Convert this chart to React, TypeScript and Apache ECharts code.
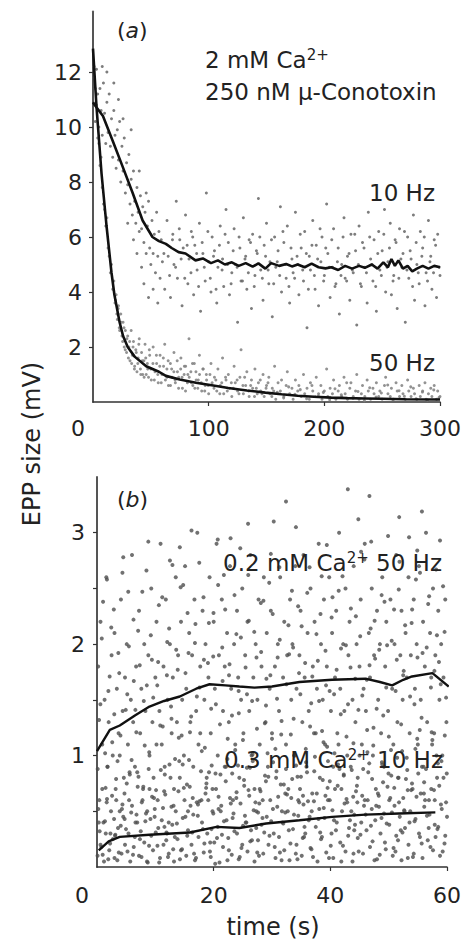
import React, { useEffect, useRef } from "react";
import * as echarts from "echarts";

// ---------- Panel (a): 2 mM Ca2+, 250 nM mu-Conotoxin ----------
// flat lists: t, v, t, v, ...
const a10HzPoints: number[] = [
  1,11.8, 2,10.2, 3,12.1, 4,11.2, 5,10.0, 6,11.4, 7,10.6, 8,9.7, 9,11.6, 10,10.5,
  11,9.4, 12,10.9, 13,9.8, 14,11.2, 15,9.3, 16,10.3, 17,8.9, 18,10.6, 19,9.7, 20,8.5,
  21,9.9, 22,8.8, 23,10.2, 24,8.0, 25,9.3, 26,8.4, 27,9.6, 28,7.6, 29,8.7, 30,7.9,
  31,9.0, 32,7.2, 33,8.1, 34,6.8, 35,8.4, 36,7.3, 37,6.5, 38,7.8, 39,6.9, 40,6.2,
  41,7.5, 42,6.3, 43,7.1, 44,5.8, 45,6.9, 46,5.4, 47,6.4, 48,7.3, 49,5.6, 50,5.0,
  51,6.6, 52,5.4, 53,6.1, 54,4.7, 55,6.9, 56,5.3, 57,6.2, 58,4.5, 59,5.9, 60,5.1,
  30,6.5, 38,5.4, 44,4.3, 48,3.8, 52,4.1, 56,3.6, 33,9.9, 26,10.3, 18,11.6, 8,12.2,
  12,12.0, 22,11.0, 40,8.4, 46,7.6, 35,5.9, 42,4.9,
  62,4.1, 64,6.6, 65,5.3, 67,3.8, 69,6.1, 70,5.0, 72,7.3, 73,4.5, 75,5.9, 77,3.5,
  78,5.6, 80,6.8, 82,4.3, 83,5.2, 85,6.2, 87,3.9, 88,5.7, 90,4.8, 92,6.5, 93,3.3,
  95,5.4, 97,4.4, 98,7.6, 100,5.1, 102,4.0, 103,6.0, 105,5.5, 107,3.6, 108,4.9, 110,6.4,
  112,5.2, 113,4.2, 115,7.0, 117,5.8, 118,3.9, 120,4.7, 122,6.3, 123,5.0, 125,2.9, 127,5.6,
  128,4.4, 130,6.7, 132,5.3, 133,4.1, 135,5.9, 137,3.4, 138,6.1, 140,4.6, 142,5.4, 143,7.4,
  145,4.8, 147,3.7, 148,5.7, 150,6.5, 152,4.3, 153,5.1, 155,3.1, 157,6.0, 158,4.9, 160,5.5,
  162,7.1, 163,4.0, 165,5.8, 167,4.5, 168,6.4, 170,3.6, 172,5.2, 173,4.7, 175,6.9, 177,5.0,
  178,3.9, 180,5.6, 182,4.4, 183,6.2, 185,2.7, 187,5.3, 188,4.8, 190,6.6, 192,4.1, 193,5.7,
  195,3.5, 197,5.1, 198,6.0, 200,4.6, 202,7.2, 203,5.4, 205,3.8, 207,4.9, 208,6.3, 210,4.3,
  212,5.6, 213,3.2, 215,5.0, 217,6.7, 218,4.5, 220,5.3, 222,3.7, 223,6.1, 225,4.7, 227,5.5,
  228,2.8, 230,6.4, 232,4.2, 233,5.8, 235,4.9, 237,3.6, 238,6.9, 240,5.2, 242,4.4, 243,5.9,
  245,3.3, 247,6.2, 248,4.8, 250,5.5, 252,7.0, 253,4.0, 255,5.1, 257,6.5, 258,3.9, 260,4.6,
  262,5.8, 263,3.4, 265,6.3, 267,4.9, 268,5.4, 270,2.9, 272,6.0, 273,4.5, 275,5.2, 277,6.8,
  278,3.7, 280,5.0, 282,4.3, 283,6.2, 285,5.6, 287,3.5, 288,4.7, 290,6.6, 292,5.3, 293,4.1,
  295,5.9, 297,3.8, 298,6.1, 300,4.6,
];

const a10HzPointsMore: number[] = [
  61.3,5.4, 66.2,4.6, 68.7,5.9, 71.4,4.9, 74.6,6.3, 76.2,5.2, 79.3,4.5, 81.4,5.7, 84.7,4.7, 86.2,6.0,
  89.6,5.4, 91.3,4.2, 94.4,5.8, 96.2,4.9, 99.3,6.2, 101.4,4.5, 104.2,5.3, 106.4,4.1, 109.3,5.7, 111.6,4.8,
  114.2,6.1, 116.3,5.0, 119.4,4.3, 121.2,5.5, 124.6,4.9, 126.3,6.0, 129.2,4.4, 131.4,5.2, 134.3,4.7, 136.2,5.8,
  139.4,4.2, 141.3,5.5, 144.2,6.0, 146.4,4.5, 149.2,5.3, 151.4,4.8, 154.3,5.9, 156.2,4.3, 159.3,5.1, 161.4,4.6,
  164.2,6.2, 166.3,5.0, 169.4,4.2, 171.2,5.6, 174.3,4.5, 176.4,5.3, 179.2,6.1, 181.3,4.8, 184.4,5.4, 186.2,4.1,
  189.3,5.7, 191.4,4.6, 194.2,5.2, 196.3,6.3, 199.4,4.4, 201.2,5.6, 204.3,4.9, 206.4,5.9, 209.2,4.2, 211.3,5.1,
  214.4,4.6, 216.2,6.0, 219.3,4.4, 221.4,5.4, 224.2,4.8, 226.3,6.1, 229.4,5.0, 231.2,4.3, 234.3,5.6, 236.4,4.7,
  239.2,6.0, 241.3,5.0, 244.4,4.2, 246.2,5.4, 249.3,4.6, 251.4,6.1, 254.2,4.9, 256.3,5.6, 259.4,4.4, 261.2,5.9,
  264.4,4.5, 266.2,5.2, 269.3,6.2, 271.4,4.8, 274.2,5.5, 276.3,4.2, 279.4,5.8, 281.2,4.7, 284.3,5.3, 286.4,6.0,
  289.2,4.4, 291.3,5.1, 294.4,4.7, 296.2,5.7, 299.3,4.9,
];

const a50HzPoints: number[] = [
  1,12.2, 2,11.4, 3,10.8, 4,9.6, 5,9.4, 6,8.6, 7,8.9, 8,7.8, 9,7.2, 10,7.0,
  11,6.4, 12,6.7, 13,5.6, 14,5.3, 15,4.7, 16,5.0, 17,4.1, 18,4.4, 19,3.6, 20,3.9,
  21,3.0, 22,3.5, 23,2.6, 24,3.2, 25,2.4, 26,2.9, 27,2.0, 28,2.6, 29,1.8, 30,2.4,
  31,2.0, 32,1.5, 33,2.6, 34,1.7, 35,2.2, 36,1.3, 37,1.9, 38,1.1, 39,1.6, 40,2.3,
  41,1.2, 42,1.8, 43,1.0, 44,1.5, 45,2.1, 46,1.0, 47,1.4, 48,0.9, 49,1.7, 50,1.2,
  52,2.0, 53,0.8, 55,1.4, 56,1.0, 58,1.7, 59,0.7, 61,1.3, 62,2.1, 64,0.9, 65,1.5,
  67,0.6, 68,1.2, 70,1.8, 71,0.8, 73,1.1, 74,0.5, 76,1.6, 77,0.9, 79,1.3, 80,0.4,
  82,1.0, 83,2.3, 85,0.7, 86,1.4, 88,0.5, 89,1.1, 91,0.8, 92,1.7, 94,0.4, 95,1.2,
  97,0.6, 98,1.0, 100,0.3, 102,1.4, 103,0.7, 105,0.9, 107,0.4, 108,1.2, 110,0.6, 112,1.6,
  113,0.3, 115,0.8, 117,1.0, 118,0.5, 120,0.2, 122,1.3, 123,0.7, 125,0.4, 127,0.9, 128,1.9,
  130,0.3, 132,0.6, 133,1.1, 135,0.2, 137,0.8, 138,0.5, 140,1.2, 142,0.3, 143,0.7, 145,0.4,
  147,1.0, 148,0.2, 150,0.6, 152,0.9, 153,0.3, 155,0.5, 157,1.3, 158,0.1, 160,0.7, 162,0.4,
  163,0.8, 165,0.2, 167,0.6, 168,1.1, 170,0.3, 172,0.5, 173,0.1, 175,0.8, 177,0.4, 178,0.6,
  180,0.2, 182,1.0, 183,0.3, 185,0.5, 187,0.1, 188,0.7, 190,0.4, 192,0.2, 193,0.9, 195,0.3,
  197,0.6, 198,0.1, 200,0.4, 202,1.2, 203,0.2, 205,0.5, 207,0.3, 208,0.8, 210,0.1, 212,0.4,
  213,0.6, 215,0.2, 217,0.9, 218,0.3, 220,0.1, 222,0.5, 223,0.7, 225,0.2, 227,0.4, 228,1.0,
  230,0.1, 232,0.3, 233,0.6, 235,0.2, 237,0.8, 238,0.4, 240,0.1, 242,0.5, 243,0.3, 245,0.7,
  247,0.2, 248,0.4, 250,0.1, 252,0.6, 253,0.9, 255,0.3, 257,0.2, 258,0.5, 260,0.1, 262,0.7,
  263,0.4, 265,0.2, 267,0.6, 268,0.3, 270,0.1, 272,0.8, 273,0.4, 275,0.2, 277,0.5, 278,0.3,
  280,0.1, 282,0.6, 283,0.2, 285,0.4, 287,0.7, 288,0.1, 290,0.3, 292,0.5, 293,0.2, 295,0.6,
  297,0.1, 298,0.4, 300,0.2,
];

const a50HzPointsMore: number[] = [
  19.4,3.7, 20.6,3.2, 21.8,3.4, 22.7,2.7, 24.3,2.9, 25.6,2.2, 26.8,2.7, 27.9,1.9, 29.3,2.3, 30.6,1.6,
  31.7,2.2, 33.4,1.4, 34.6,2.0, 35.8,1.2, 37.4,1.8, 38.7,1.4, 39.6,2.1, 41.3,1.0, 42.6,1.5, 44.2,0.9,
  45.6,1.6, 47.3,1.2, 48.7,1.9, 50.4,0.8, 51.8,1.4, 53.6,1.1, 54.8,1.7, 56.4,0.7, 57.7,1.3, 59.6,1.0,
  60.8,1.6, 62.6,0.8, 63.9,1.2, 65.2,0.6, 66.9,1.4, 68.3,0.9, 69.9,1.1, 71.2,0.7, 72.8,1.5, 74.1,0.9,
  75.8,1.2, 77.3,0.5, 78.8,1.0, 80.1,1.3, 81.6,0.7, 83.2,0.9, 84.6,1.1, 86.3,0.6, 87.6,1.4, 89.2,0.8,
  90.6,0.5, 92.1,1.0, 93.6,0.7, 95.3,1.2, 96.6,0.4, 98.2,0.8, 99.6,0.6, 101.1,1.0, 104.6,0.5, 106.2,0.8,
  109.6,0.3, 111.3,0.7, 114.6,0.9, 116.1,0.4, 119.6,0.7, 121.3,0.5, 124.6,0.8, 126.2,0.3, 129.6,0.6, 131.1,0.9,
  134.6,0.4, 136.3,0.6, 139.6,0.2, 141.2,0.5, 144.6,0.8, 146.1,0.3, 149.6,0.5, 151.3,0.7, 154.6,0.2, 156.2,0.4,
  159.3,0.35, 164.8,0.15, 169.1,0.55, 174.6,0.28, 179.2,0.45, 184.7,0.12, 189.3,0.6, 194.8,0.22, 199.1,0.35, 204.6,0.08,
  209.2,0.48, 214.7,0.26, 219.3,0.7, 224.8,0.14, 229.1,0.38, 234.6,0.05, 239.2,0.52, 244.7,0.18, 249.3,0.33, 254.8,0.62,
  259.1,0.09, 264.6,0.41, 269.2,0.21, 274.7,0.55, 279.3,0.12, 284.8,0.36, 289.1,0.07, 294.6,0.44, 299.2,0.16,
];

const a10HzMean: number[] = [
  0,10.9, 1.5,10.8, 8.6,10.4, 17,9.5, 25.7,8.55, 34.3,7.6, 42.9,6.6, 51.4,6.0, 57,5.85,
  63,5.75, 68,5.6, 74,5.45, 80,5.4, 88.6,5.15, 95,5.22, 102,5.05, 108,5.15, 114,5.0,
  120,5.08, 126,4.95, 132,5.05, 138,4.92, 143,5.04, 149,4.85, 154,5.05, 161,4.95,
  167,5.02, 172,4.93, 177,5.0, 183,4.9, 189,5.03, 195,4.9, 201,4.86, 206,4.9, 212,4.8,
  218,4.95, 224,4.85, 230,4.95, 235,4.88, 241,5.0, 246,4.85, 251,5.08, 255,4.9,
  258,5.2, 261,4.95, 264,5.15, 268,4.85, 272,4.95, 276,4.75, 280,4.85, 285,4.95,
  290,4.85, 295,4.95, 300,4.9,
];

const a50HzMean: number[] = [
  0,12.85, 3,10.75, 7.4,8.3, 11.7,6.4, 16,4.7, 18.5,3.9, 23,2.9, 26,2.4, 30,2.0,
  36,1.65, 46,1.3, 57,1.1, 63,0.95, 75,0.82, 89,0.7, 104,0.6, 117,0.51, 133,0.42,
  149,0.34, 163,0.28, 177,0.23, 191,0.19, 206,0.16, 220,0.14, 235,0.13, 250,0.12,
  270,0.1, 300,0.09,
];

// ---------- Panel (b): low Ca2+, time in seconds ----------
const b02mM50HzPoints: number[] = [
  0.2,1.8, 0.4,0.6, 0.6,2.2, 0.9,1.1, 1.1,0.4, 1.3,1.5, 1.6,2.6, 1.8,0.9, 2.0,1.3, 2.3,0.3,
  2.5,1.9, 2.7,1.0, 3.0,2.1, 3.2,0.7, 3.4,1.6, 3.7,1.2, 3.9,0.5, 4.1,2.4, 4.4,1.4, 4.6,0.8, 4.8,1.7,
  5.1,2.0, 5.3,1.1, 5.5,0.6, 5.8,1.5, 6.0,2.8, 6.2,1.3, 6.5,0.9, 6.7,1.8, 6.9,0.4, 7.2,2.3,
  7.4,1.2, 7.6,1.6, 7.9,0.7, 8.1,2.0, 8.3,1.4, 8.6,0.5, 8.8,1.9, 9.0,1.0, 9.3,2.5, 9.5,1.3, 9.7,0.8,
  10.0,1.7, 10.2,2.2, 10.4,0.6, 10.7,1.4, 10.9,2.9, 11.1,1.1, 11.4,1.8, 11.6,0.9, 11.8,2.4, 12.1,1.5,
  12.3,0.4, 12.5,2.0, 12.8,1.2, 13.0,1.7, 13.2,0.7, 13.5,2.6, 13.7,1.3, 13.9,1.9, 14.2,0.8, 14.4,2.2, 14.6,1.5,
  14.9,1.0, 15.1,2.7, 15.3,1.6, 15.6,0.5, 15.8,2.1, 16.0,1.3, 16.3,1.9, 16.5,0.9, 16.7,2.4, 17.0,1.4,
  17.2,3.0, 17.4,1.1, 17.7,1.8, 17.9,0.6, 18.1,2.3, 18.4,1.5, 18.6,2.0, 18.8,0.8, 19.1,1.7, 19.3,2.6, 19.5,1.2,
  19.8,0.7, 20.0,2.2, 20.2,1.6, 20.5,2.9, 20.7,1.0, 20.9,1.9, 21.2,0.5, 21.4,2.4, 21.6,1.4, 21.9,1.8,
  22.1,0.9, 22.3,2.1, 22.6,1.3, 22.8,2.7, 23.0,1.6, 23.3,0.6, 23.5,2.0, 23.7,1.1, 24.0,2.3, 24.2,1.7, 24.4,0.8,
  24.7,1.5, 24.9,2.5, 25.1,1.2, 25.4,1.9, 25.6,0.4, 25.8,2.2, 26.1,1.4, 26.3,2.8, 26.5,1.0, 26.8,1.7,
  27.0,0.7, 27.2,2.0, 27.5,1.5, 27.7,2.4, 27.9,1.1, 28.2,1.8, 28.4,0.6, 28.6,2.6, 28.9,1.3, 29.1,2.1, 29.3,0.9,
  29.6,1.6, 29.8,2.3, 30.0,1.2, 30.3,3.1, 30.5,1.8, 30.7,0.8, 31.0,2.0, 31.2,1.4, 31.4,2.6, 31.7,0.5,
  31.9,1.7, 32.1,2.2, 32.4,1.1, 32.6,1.9, 32.8,0.7, 33.1,2.4, 33.3,1.5, 33.5,2.0, 33.8,1.0, 34.0,2.7, 34.2,1.6,
  34.5,0.6, 34.7,1.9, 34.9,2.3, 35.2,1.3, 35.4,2.8, 35.6,1.7, 35.9,0.9, 36.1,2.1, 36.3,1.4, 36.6,2.5,
  36.8,0.5, 37.0,1.8, 37.3,2.2, 37.5,1.2, 37.7,1.6, 38.0,2.9, 38.2,0.8, 38.4,2.0, 38.7,1.5, 38.9,2.4, 39.1,1.1,
  39.4,1.8, 39.6,0.6, 39.8,2.6, 40.1,1.4, 40.3,2.1, 40.5,0.9, 40.8,1.7, 41.0,2.3, 41.2,1.2, 41.5,3.0,
  41.7,1.6, 41.9,0.7, 42.2,2.0, 42.4,1.4, 42.6,2.5, 42.9,1.0, 43.1,1.9, 43.3,2.2, 43.6,0.5, 43.8,1.5, 44.0,2.7,
  44.3,1.3, 44.5,2.0, 44.7,0.8, 45.0,1.8, 45.2,2.4, 45.4,1.1, 45.7,1.6, 45.9,2.9, 46.1,1.4, 46.4,0.6,
  46.6,2.1, 46.8,1.7, 47.1,2.5, 47.3,1.0, 47.5,1.9, 47.8,0.7, 48.0,2.3, 48.2,1.5, 48.5,2.0, 48.7,1.2, 48.9,2.6,
  49.2,0.9, 49.4,1.8, 49.6,2.2, 49.9,1.4, 50.1,0.6, 50.3,2.4, 50.6,1.6, 50.8,1.1, 51.0,2.0, 51.3,2.8,
  51.5,1.3, 51.7,0.8, 52.0,1.9, 52.2,2.3, 52.4,1.5, 52.7,0.5, 52.9,2.1, 53.1,1.7, 53.4,2.6, 53.6,1.2, 53.8,1.9,
  54.1,0.7, 54.3,2.4, 54.5,1.6, 54.8,2.0, 55.0,1.1, 55.2,2.7, 55.5,1.5, 55.7,0.9, 55.9,2.2, 56.2,1.8,
  56.4,3.0, 56.6,1.3, 56.9,0.6, 57.1,2.1, 57.3,1.7, 57.6,2.5, 57.8,1.2, 58.0,1.9, 58.3,0.8, 58.5,2.3,
  58.7,1.5, 59.0,2.0, 59.2,1.0, 59.4,1.7, 59.7,2.4, 59.9,1.3,
  32.4,3.28, 43.0,3.39, 46.7,3.33, 51.8,3.14, 55.7,3.19, 53.5,2.96, 20.7,2.94, 14.2,2.87, 1.7,2.58, 47.0,2.92,
];

const b02mM50HzPointsMore: number[] = [
  0.35,1.32, 0.82,2.05, 1.47,0.71, 1.95,1.58, 2.61,1.12, 2.88,2.31, 3.52,0.95, 3.81,1.74, 4.27,0.52, 4.93,1.41,
  5.36,2.47, 5.62,0.83, 6.31,1.67, 6.74,1.21, 7.05,2.12, 7.68,0.58, 8.02,1.49, 8.47,2.66, 8.95,1.03, 9.41,1.86,
  9.88,0.45, 10.33,1.63, 10.61,2.35, 11.27,1.26, 11.52,0.68, 12.04,2.02, 12.69,1.44, 12.93,2.71, 13.38,0.97, 13.84,1.77,
  14.51,1.18, 14.77,2.53, 15.42,0.74, 15.69,1.92, 16.14,1.35, 16.88,2.18, 17.31,0.56, 17.58,1.61, 18.26,2.42, 18.49,1.07,
  19.02,1.83, 19.66,0.91, 19.97,2.28, 20.38,1.46, 20.84,0.63, 21.47,1.97, 21.75,2.62, 22.41,1.15, 22.63,1.72, 23.18,0.84,
  23.89,2.09, 24.31,1.38, 24.56,2.86, 25.23,0.73, 25.71,1.55, 26.02,2.21, 26.67,1.01, 27.34,1.88, 27.61,0.49, 28.08,2.37,
  28.77,1.29, 29.04,1.69, 29.52,2.55, 30.19,0.94, 30.86,1.51, 31.33,2.04, 31.58,1.19, 32.27,0.66, 32.93,1.91, 33.42,2.48,
  33.71,1.33, 34.37,0.81, 34.63,1.74, 35.08,2.16, 35.79,1.06, 36.44,2.69, 36.72,1.47, 37.19,0.59, 37.86,1.85, 38.31,2.27,
  38.58,1.22, 39.26,1.63, 39.91,0.77, 40.37,2.42, 40.64,1.55, 41.31,0.92, 41.83,1.96, 42.09,2.61, 42.77,1.17, 43.46,1.79,
  43.92,0.63, 44.38,2.25, 44.81,1.41, 45.27,2.83, 45.63,0.88, 46.24,1.68, 46.91,2.14, 47.36,1.09, 47.68,1.87, 48.33,0.54,
  48.79,2.44, 49.07,1.36, 49.73,1.99, 50.45,0.82, 50.92,2.31, 51.19,1.58, 51.86,2.74, 52.31,1.04, 52.58,1.76, 53.26,0.69,
  53.94,2.19, 54.42,1.46, 54.67,2.58, 55.33,1.23, 55.81,1.92, 56.08,0.76, 56.77,2.36, 57.24,1.61, 57.49,1.14, 58.13,2.67,
  58.62,1.84, 59.05,0.95, 59.58,2.11, 59.84,1.52,
  3.1,0.28, 11.9,0.31, 19.4,0.22, 27.3,0.35, 35.5,0.27, 44.1,0.33, 51.6,0.24, 57.9,0.38,
  4.5,2.78, 8.8,2.92, 16.2,3.02, 22.9,2.95, 29.8,2.81, 34.1,3.05, 39.4,2.89, 44.8,3.12, 49.9,2.97, 54.9,2.84,
  58.8,2.93, 12.5,2.75, 25.9,3.08,
  0.12,0.88, 0.58,1.46, 1.04,2.38, 1.39,1.02, 1.71,0.61, 2.17,1.71, 2.44,2.15, 2.96,1.37, 3.27,0.79, 3.66,1.92,
  4.02,1.18, 4.36,2.64, 4.74,0.43, 5.19,1.55, 5.47,1.98, 5.93,0.96, 6.26,2.22, 6.58,1.41, 6.97,0.72, 7.33,1.81,
  7.77,2.47, 8.18,1.09, 8.54,1.63, 8.86,0.88, 9.22,2.08, 9.64,1.52, 10.12,0.69, 10.48,1.84, 10.84,1.27, 11.19,2.42,
  11.62,0.83, 11.98,1.72, 12.36,2.14, 12.77,1.33, 13.13,0.55, 13.58,1.95, 14.02,1.16, 14.34,2.51, 14.69,0.92, 15.17,1.74,
  15.52,2.28, 15.94,1.21, 16.41,0.62, 16.79,2.01, 17.12,1.53, 17.53,2.73, 17.96,1.04, 18.33,1.86, 18.71,0.71, 19.18,2.19,
  19.57,1.42, 19.92,1.89, 20.31,0.84, 20.76,2.53, 21.08,1.28, 21.53,1.67, 21.97,2.31, 22.36,0.97, 22.72,1.82, 23.14,1.36,
  23.57,2.44, 23.93,0.67, 24.28,1.58, 24.66,2.06, 25.02,1.14, 25.47,1.79, 25.93,2.62, 26.22,0.89, 26.59,1.49, 26.96,2.11,
  27.42,1.24, 27.83,0.57, 28.14,1.93, 28.53,2.39, 28.97,1.45, 29.37,0.81, 29.72,1.72, 30.12,2.27, 30.58,1.06, 30.97,1.88,
  31.27,2.69, 31.64,1.31, 32.03,0.74, 32.48,1.64, 32.82,2.17, 33.23,1.19, 33.62,1.97, 34.13,0.91, 34.48,2.34, 34.86,1.55,
  35.31,0.64, 35.68,1.83, 36.04,2.46, 36.53,1.26, 36.91,1.71, 37.24,0.86, 37.62,2.09, 38.07,1.49, 38.52,2.61, 38.83,1.12,
  39.17,1.94, 39.53,0.71, 39.88,1.58, 40.22,2.24, 40.71,1.02, 41.08,1.77, 41.43,2.48, 41.79,1.37, 42.31,0.83, 42.67,1.99,
  43.03,1.46, 43.52,2.32, 43.96,1.11, 44.27,1.69, 44.63,0.58, 45.12,2.07, 45.48,1.54, 45.84,2.76, 46.31,1.23, 46.72,1.81,
  47.16,0.79, 47.59,2.21, 47.94,1.42, 48.38,1.95, 48.84,0.94, 49.28,2.38, 49.58,1.61, 50.03,1.17, 50.52,2.03, 50.96,0.71,
  51.39,1.86, 51.73,2.49, 52.14,1.28, 52.49,1.72, 52.82,2.17, 53.18,0.87, 53.67,1.53, 54.02,2.31, 54.58,1.06, 54.94,1.88,
  55.37,2.64, 55.64,1.34, 56.03,0.66, 56.52,1.97, 56.94,2.43, 57.37,1.21, 57.84,1.76, 58.27,2.08, 58.44,0.93, 58.93,1.64,
  59.32,2.52, 59.62,1.18, 59.96,0.84,
];

const b03mM10HzPoints: number[] = [
  0.1,0.1, 0.3,0.4, 0.6,0.2, 0.9,0.7, 1.2,0.05, 1.5,0.3, 1.8,0.9, 2.1,0.15, 2.4,0.5, 2.7,0.25,
  3.0,0.08, 3.3,0.6, 3.6,0.35, 3.9,1.0, 4.2,0.12, 4.5,0.45, 4.8,0.2, 5.1,0.75, 5.4,0.3, 5.7,0.05,
  6.0,0.55, 6.3,0.18, 6.6,0.4, 6.9,0.85, 7.2,0.1, 7.5,0.32, 7.8,0.6, 8.1,0.22, 8.4,0.48, 8.7,0.04,
  9.0,0.7, 9.3,0.28, 9.6,0.15, 9.9,0.52, 10.2,1.1, 10.5,0.35, 10.8,0.08, 11.1,0.42, 11.4,0.2, 11.7,0.65,
  12.0,0.3, 12.3,0.12, 12.6,0.8, 12.9,0.38, 13.2,0.05, 13.5,0.5, 13.8,0.25, 14.1,0.95, 14.4,0.15, 14.7,0.44,
  15.0,0.6, 15.3,0.1, 15.6,0.33, 15.9,0.72, 16.2,0.2, 16.5,0.47, 16.8,0.06, 17.1,0.58, 17.4,0.27, 17.7,1.2,
  18.0,0.4, 18.3,0.13, 18.6,0.66, 18.9,0.3, 19.2,0.85, 19.5,0.09, 19.8,0.5, 20.1,0.22, 20.4,0.7, 20.7,0.36,
  21.0,0.04, 21.3,0.55, 21.6,0.18, 21.9,0.9, 22.2,0.42, 22.5,0.26, 22.8,0.62, 23.1,0.11, 23.4,0.48, 23.7,1.05,
  24.0,0.3, 24.3,0.07, 24.6,0.57, 24.9,0.2, 25.2,0.78, 25.5,0.4, 25.8,0.14, 26.1,0.64, 26.4,0.33, 26.7,0.95,
  27.0,0.05, 27.3,0.5, 27.6,0.24, 27.9,0.7, 28.2,0.38, 28.5,0.12, 28.8,0.82, 29.1,0.45, 29.4,0.2, 29.7,0.6,
  30.0,1.15, 30.3,0.3, 30.6,0.08, 30.9,0.54, 31.2,0.27, 31.5,0.74, 31.8,0.4, 32.1,0.15, 32.4,0.88, 32.7,0.5,
  33.0,0.06, 33.3,0.62, 33.6,0.34, 33.9,1.0, 34.2,0.2, 34.5,0.46, 34.8,0.7, 35.1,0.1, 35.4,0.56, 35.7,0.3,
  36.0,0.85, 36.3,0.42, 36.6,0.17, 36.9,0.66, 37.2,1.2, 37.5,0.36, 37.8,0.05, 38.1,0.52, 38.4,0.25, 38.7,0.78,
  39.0,0.44, 39.3,0.13, 39.6,0.95, 39.9,0.6, 40.2,0.3, 40.5,0.08, 40.8,0.7, 41.1,0.4, 41.4,1.1, 41.7,0.22,
  42.0,0.5, 42.3,0.82, 42.6,0.14, 42.9,0.58, 43.2,0.35, 43.5,0.9, 43.8,0.05, 44.1,0.47, 44.4,0.68, 44.7,0.26,
  45.0,1.0, 45.3,0.4, 45.6,0.12, 45.9,0.6, 46.2,0.33, 46.5,0.85, 46.8,0.18, 47.1,0.52, 47.4,1.25, 47.7,0.42,
  48.0,0.07, 48.3,0.64, 48.6,0.3, 48.9,0.92, 49.2,0.48, 49.5,0.16, 49.8,0.72, 50.1,0.38, 50.4,1.05, 50.7,0.1,
  51.0,0.55, 51.3,0.28, 51.6,0.8, 51.9,0.45, 52.2,0.06, 52.5,0.62, 52.8,0.35, 53.1,0.98, 53.4,0.2, 53.7,0.5,
  54.0,0.75, 54.3,0.12, 54.6,0.43, 54.9,1.15, 55.2,0.3, 55.5,0.66, 55.8,0.08, 56.1,0.54, 56.4,0.88, 56.7,0.24,
  57.0,0.47, 57.3,0.7, 57.6,0.15, 57.9,0.6, 58.2,1.0, 58.5,0.36, 58.8,0.1, 59.1,0.52, 59.4,0.8, 59.7,0.28, 60.0,0.45,
];

const b03mM10HzPointsMore: number[] = [
  0.45,0.32, 0.97,0.11, 1.66,0.58, 2.24,0.21, 2.92,0.43, 3.48,0.06, 4.07,0.37, 4.71,0.66, 5.23,0.14, 5.86,0.49,
  6.48,0.27, 7.11,0.81, 7.63,0.09, 8.29,0.41, 8.92,0.19, 9.44,0.63, 10.07,0.31, 10.66,0.04, 11.31,0.53, 11.87,0.24,
  12.43,0.92, 13.06,0.16, 13.69,0.39, 14.22,0.07, 14.88,0.71, 15.47,0.28, 16.03,0.55, 16.64,0.12, 17.28,0.46, 17.83,0.86,
  18.41,0.21, 19.07,0.6, 19.63,0.34, 20.26,0.03, 20.84,0.52, 21.42,0.29, 22.07,0.77, 22.61,0.15, 23.25,0.44, 23.88,0.62,
  24.47,0.09, 25.04,0.37, 25.69,0.89, 26.28,0.23, 26.86,0.51, 27.47,0.13, 28.03,0.68, 28.67,0.31, 29.24,1.02, 29.86,0.41,
  30.47,0.18, 31.06,0.63, 31.64,0.06, 32.27,0.49, 32.88,0.33, 33.46,0.79, 34.08,0.12, 34.66,0.58, 35.27,0.26, 35.84,0.94,
  36.45,0.45, 37.03,0.09, 37.68,0.66, 38.26,0.31, 38.87,0.53, 39.45,1.08, 40.07,0.19, 40.63,0.42, 41.26,0.73, 41.88,0.05,
  42.44,0.57, 43.06,0.28, 43.67,0.87, 44.23,0.38, 44.86,0.14, 45.46,0.64, 46.05,0.47, 46.67,0.93, 47.24,0.23, 47.86,0.55,
  48.47,0.11, 49.04,0.76, 49.66,0.39, 50.27,0.62, 50.84,0.17, 51.46,0.98, 52.07,0.33, 52.66,0.51, 53.28,0.08, 53.86,0.69,
  54.44,0.41, 55.07,0.84, 55.66,0.21, 56.24,0.6, 56.86,0.35, 57.45,1.1, 58.04,0.27, 58.67,0.73, 59.26,0.14, 59.84,0.58,
  0.22,0.52, 0.74,0.18, 1.36,0.41, 1.93,0.07, 2.58,0.64, 3.14,0.29, 3.74,0.13, 4.36,0.56, 4.97,0.34, 5.58,0.85,
  6.17,0.11, 6.77,0.47, 7.36,0.25, 7.94,0.72, 8.57,0.05, 9.16,0.43, 9.77,0.62, 10.36,0.19, 10.94,0.87, 11.56,0.36,
  12.17,0.09, 12.76,0.54, 13.34,0.27, 13.96,0.68, 14.57,0.16, 15.16,0.45, 15.77,0.96, 16.34,0.31, 16.97,0.08, 17.56,0.59,
  18.16,0.34, 18.76,0.75, 19.36,0.14, 19.94,0.48, 20.57,0.26, 21.16,0.83, 21.77,0.41, 22.36,0.06, 22.94,0.57, 23.56,0.32,
  24.17,0.91, 24.76,0.17, 25.36,0.46, 25.97,0.69, 26.56,0.24, 27.16,0.58, 27.77,0.1, 28.37,0.44, 28.96,0.77, 29.57,0.28,
  30.16,0.52, 30.77,0.86, 31.36,0.13, 31.94,0.39, 32.57,0.65, 33.16,0.21, 33.77,0.47, 34.36,0.07, 34.96,0.81, 35.57,0.36,
  36.17,0.59, 36.76,0.16, 37.36,0.99, 37.97,0.43, 38.56,0.27, 39.16,0.64, 39.77,0.08, 40.36,0.51, 40.96,0.33, 41.57,0.88,
  42.16,0.19, 42.77,0.61, 43.36,0.42, 43.97,0.12, 44.56,0.73, 45.16,0.29, 45.77,0.55, 46.36,1.03, 46.96,0.37, 47.57,0.06,
  48.16,0.66, 48.77,0.44, 49.36,0.22, 49.97,0.84, 50.56,0.49, 51.16,0.14, 51.77,0.58, 52.36,0.31, 52.96,0.79, 53.57,0.4,
  54.16,0.09, 54.77,0.63, 55.36,0.27, 55.97,0.9, 56.56,0.46, 57.16,0.18, 57.77,0.69, 58.36,0.34, 58.96,0.56, 59.57,0.21,
];

const b02mM50HzMean: number[] = [
  0,1.04, 2.2,1.23, 3.9,1.27, 6.5,1.36, 9,1.44, 11.5,1.49, 14.2,1.53, 17,1.6, 19.3,1.64,
  22,1.63, 24.4,1.62, 27,1.61, 30,1.62, 34.7,1.66, 40.3,1.68, 46,1.69, 48.5,1.66,
  50.6,1.63, 52.5,1.68, 54,1.71, 57.5,1.74, 60.3,1.62,
];

const b03mM10HzMean: number[] = [
  0.3,0.15, 2,0.23, 3.9,0.27, 9,0.29, 15.9,0.31, 20.5,0.36, 24.4,0.35, 29,0.39,
  34.7,0.42, 40.3,0.45, 46,0.47, 51.8,0.48, 58,0.49,
];

const aXLabels = [0, 100, 200, 300];
const aXTicks = [100, 200, 300];
const aYLabels = [2, 4, 6, 8, 10, 12];
const bXLabels = [0, 20, 40, 60];
const bXTicks = [20, 40, 60];
const bYLabels = [1, 2, 3];
const bYTicks = [0.5, 1, 1.5, 2, 2.5, 3];

const toPairs = (...flats: number[][]) => {
  const out: number[][] = [];
  for (const flat of flats) {
    for (let i = 0; i + 1 < flat.length; i += 2) out.push([flat[i], flat[i + 1]]);
  }
  return out;
};

const FONT = "DejaVu Sans";
const TXT = "#222";

export default function App() {
  const ref = useRef<HTMLDivElement>(null);

  useEffect(() => {
    document.body.style.margin = "0";
    if (!ref.current) return;
    const chart = echarts.init(ref.current, undefined, { renderer: "svg" });

    const axisLine = { show: true, onZero: false, lineStyle: { color: "#333", width: 1.5 } };
    const tick = (vals: number[]) => ({
      show: true, inside: false, length: 4, customValues: vals,
      lineStyle: { color: "#333", width: 1.2 },
    });
    const zeroRich = {
      z: { fontSize: 22, fontFamily: FONT, color: TXT, padding: [0, 30, 0, 0] },
    };
    const xLabel = (vals: number[], margin: number) => ({
      customValues: vals,
      margin,
      fontSize: 22,
      fontFamily: FONT,
      color: TXT,
      formatter: (v: number) => (v === 0 ? "{z|0}" : String(v)),
      rich: zeroRich,
    });
    const yLabel = (vals: number[], margin: number) => ({
      customValues: vals,
      margin,
      fontSize: 22,
      fontFamily: FONT,
      color: TXT,
    });

    const cloud = (data: number[][], idx: number, color: string, size: number, opacity: number) => ({
      type: "scatter",
      xAxisIndex: idx,
      yAxisIndex: idx,
      data,
      symbol: "circle",
      symbolSize: size,
      itemStyle: { color, opacity },
      silent: true,
      z: 1,
    });
    const mean = (data: number[], idx: number, width: number) => ({
      type: "line",
      xAxisIndex: idx,
      yAxisIndex: idx,
      data: toPairs(data),
      showSymbol: false,
      symbol: "none",
      lineStyle: { color: "#111", width },
      silent: true,
      z: 3,
    });

    const sup = { fontSize: 15, fontFamily: FONT, color: TXT, verticalAlign: "top", lineHeight: 15 };
    const ann = (x: number, y: number, text: string, align: string) => ({
      type: "text",
      x,
      y,
      z: 10,
      style: {
        text,
        fontSize: 23,
        fontFamily: FONT,
        fill: TXT,
        align,
        verticalAlign: "middle",
        rich: {
          s: sup,
          n: { fontSize: 23, fontFamily: FONT, color: TXT, lineHeight: 26 },
          i: { fontSize: 22, fontFamily: FONT, color: TXT, fontStyle: "italic", lineHeight: 26 },
          p: { fontSize: 22, fontFamily: FONT, color: TXT, lineHeight: 26 },
        },
      },
    });

    chart.setOption({
      animation: false,
      backgroundColor: "#fff",
      grid: [
        { left: 93, top: 11.5, width: 350, height: 390.5 },
        { left: 97, top: 477, width: 351, height: 390 },
      ],
      xAxis: [
        {
          gridIndex: 0, type: "value", min: 0, max: 300,
          axisLine, axisTick: tick(aXTicks),
          axisLabel: xLabel(aXLabels, 15),
          splitLine: { show: false },
        },
        {
          gridIndex: 1, type: "value", min: 0, max: 60,
          axisLine, axisTick: tick(bXTicks),
          axisLabel: xLabel(bXLabels, 17),
          splitLine: { show: false },
        },
      ],
      yAxis: [
        {
          gridIndex: 0, type: "value", min: 0, max: 14.2,
          axisLine: { show: true, onZero: false, lineStyle: { color: "#555", width: 2 } },
          axisTick: tick(aYLabels),
          axisLabel: yLabel(aYLabels, 11),
          splitLine: { show: false },
        },
        {
          gridIndex: 1, type: "value", min: 0, max: 3.5,
          axisLine: { show: true, onZero: false, lineStyle: { color: "#555", width: 2 } },
          axisTick: tick(bYTicks),
          axisLabel: yLabel(bYLabels, 12),
          splitLine: { show: false },
        },
      ],
      series: [
        cloud(toPairs(a10HzPoints, a10HzPointsMore), 0, "#666", 3, 0.85),
        cloud(toPairs(a50HzPoints, a50HzPointsMore), 0, "#808080", 3, 0.85),
        cloud(toPairs(b02mM50HzPoints, b02mM50HzPointsMore), 1, "#4d4d4d", 4, 0.8),
        cloud(toPairs(b03mM10HzPoints, b03mM10HzPointsMore), 1, "#4d4d4d", 4, 0.8),
        mean(a10HzMean, 0, 2.6),
        mean(a50HzMean, 0, 2.6),
        mean(b02mM50HzMean, 1, 2.4),
        mean(b03mM10HzMean, 1, 2.4),
      ],
      graphic: [
        ann(117, 30, "{p|(}{i|a}{p|)}", "left"),
        ann(205, 60, "{n|2 mM Ca}{s|2+}", "left"),
        ann(205, 92, "250 nM μ-Conotoxin", "left"),
        ann(435, 193, "10 Hz", "right"),
        ann(435, 363, "50 Hz", "right"),
        ann(117, 499, "{p|(}{i|b}{p|)}", "left"),
        ann(442, 563, "{n|0.2 mM Ca}{s|2+}{n| 50 Hz}", "right"),
        ann(443, 760, "{n|0.3 mM Ca}{s|2+}{n| 10 Hz}", "right"),
        {
          type: "text",
          x: 32,
          y: 444,
          rotation: Math.PI / 2,
          style: {
            text: "EPP size (mV)",
            fontSize: 24,
            fontFamily: FONT,
            fill: TXT,
            align: "center",
            verticalAlign: "middle",
          },
        },
        {
          type: "text",
          x: 273,
          y: 927,
          style: {
            text: "time (s)",
            fontSize: 24,
            fontFamily: FONT,
            fill: TXT,
            align: "center",
            verticalAlign: "middle",
          },
        },
      ],
    });

    return () => chart.dispose();
  }, []);

  return <div ref={ref} style={{ width: 464, height: 940 }} />;
}
